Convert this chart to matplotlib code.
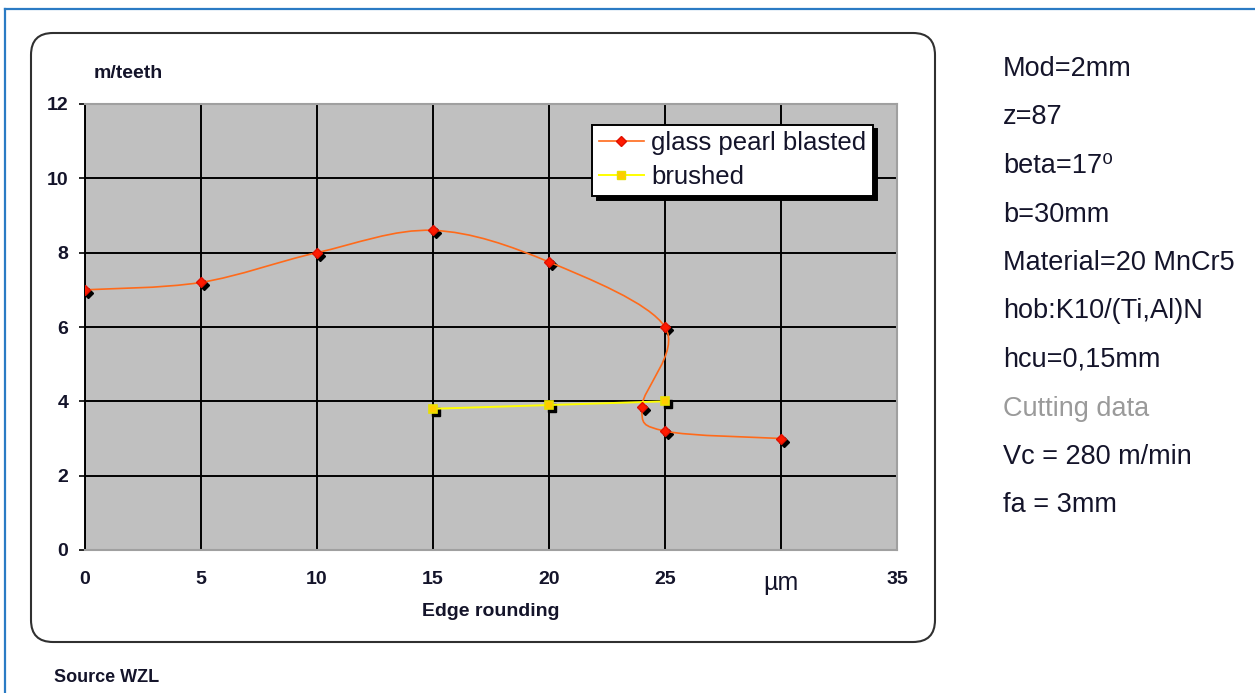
import matplotlib
matplotlib.use("Agg")
import matplotlib.pyplot as plt
from matplotlib.path import Path
from matplotlib.patches import PathPatch, FancyBboxPatch
from matplotlib.lines import Line2D
from matplotlib.transforms import offset_copy, IdentityTransform
import numpy as np

plt.rcParams['font.family'] = ['Liberation Sans', 'DejaVu Sans']

# values (drawing order of the smoothed curve)
blasted_x = [0, 5, 10, 15, 20, 25, 24, 25, 30]
blasted_y = [7.0, 7.2, 8.0, 8.6, 7.75, 6.0, 3.85, 3.2, 3.0]
brushed_x = [15, 20, 25]
brushed_y = [3.8, 3.9, 4.0]

x_ticks = [0, 5, 10, 15, 20, 25, 30, 35]
x_tick_labels = ["0", "5", "10", "15", "20", "25", "µm", "35"]
y_ticks = [0, 2, 4, 6, 8, 10, 12]

params = ["Mod=2mm", "z=87", "beta=17⁰", "b=30mm", "Material=20 MnCr5",
          "hob:K10/(Ti,Al)N", "hcu=0,15mm", "Cutting data",
          "Vc = 280 m/min", "fa = 3mm"]

W, H = 1255, 693
ORANGE = "#ff6a1a"
TXT = "#14142a"


def smooth_path(xs, ys):
    # Excel-like smoothed line: Catmull-Rom segments as cubic Beziers
    pts = np.column_stack([xs, ys]).astype(float)
    n = len(pts)
    verts = [pts[0]]
    codes = [Path.MOVETO]
    for i in range(n - 1):
        p0 = pts[max(i - 1, 0)]
        p1, p2 = pts[i], pts[i + 1]
        p3 = pts[min(i + 2, n - 1)]
        verts += [p1 + (p2 - p0) / 6, p2 - (p3 - p1) / 6, p2]
        codes += [Path.CURVE4] * 3
    return Path(verts, codes)


fig = plt.figure(figsize=(W / 100, H / 100), dpi=100)

# blue frame (only top and left visible) and rounded chart box
fig.add_artist(Line2D([5, W + 10], [H - 9, H - 9], transform=IdentityTransform(),
                      color="#2b7bc4", lw=1.6))
fig.add_artist(Line2D([5, 5], [H - 9, -10], transform=IdentityTransform(),
                      color="#2b7bc4", lw=1.6))
box = FancyBboxPatch((31, H - 642), 904, 609, boxstyle="round,pad=0,rounding_size=22",
                     transform=IdentityTransform(), facecolor="white",
                     edgecolor="#303030", lw=1.5, zorder=0)
fig.add_artist(box)

ax = fig.add_axes([85 / W, 1 - 550 / H, 812 / W, 446 / H])
ax.set_facecolor("#c0c0c0")
ax.set_xlim(0, 35)
ax.set_ylim(0, 12)
ax.set_xticks(x_ticks)
ax.set_xticklabels(x_tick_labels)
ax.set_yticks(y_ticks)
ax.set_axisbelow(True)
ax.grid(True, color="black", lw=1.4)
for side in ["top", "right", "bottom"]:
    ax.spines[side].set_color("#a0a0a0")
    ax.spines[side].set_linewidth(1.5)
ax.spines["left"].set_color("black")
ax.spines["left"].set_linewidth(1.4)

ax.tick_params(axis="x", length=0, pad=15, labelsize=14, labelcolor=TXT)
ax.tick_params(axis="y", length=4, width=1.2, pad=8, labelsize=14, labelcolor=TXT)
for lab in ax.get_xticklabels() + ax.get_yticklabels():
    lab.set_fontweight("bold")
mu = ax.get_xticklabels()[6]
mu.set_fontweight("normal")
mu.set_fontsize(18)

shadow = offset_copy(ax.transData, fig=fig, x=3, y=-3, units="dots")

# glass pearl blasted
ax.plot(blasted_x, blasted_y, "D", color="black", ms=5, transform=shadow, zorder=3)
ax.add_patch(PathPatch(smooth_path(blasted_x, blasted_y), fill=False,
                       edgecolor=ORANGE, lw=1.2, zorder=4))
ax.plot(blasted_x, blasted_y, "D", color="#ff1a00", mec="#e01000", ms=5, zorder=5)

# brushed
ax.plot(brushed_x, brushed_y, "s", color="black", ms=6, transform=shadow, zorder=3)
ax.plot(brushed_x, brushed_y, "-", color="#ffff00", lw=1.4, zorder=4)
ax.plot(brushed_x, brushed_y, "s", color="#ffcc00", mec="#e8e000", mew=1.2,
        ms=6, zorder=5)

handles = [
    Line2D([], [], color=ORANGE, lw=1.2, marker="D", ms=5, mfc="#ff1a00", mec="#e01000"),
    Line2D([], [], color="#ffff00", lw=1.4, marker="s", ms=6, mfc="#ffcc00", mec="#e8e000"),
]
leg = ax.legend(handles, ["glass pearl blasted", "brushed"], loc="upper right",
                bbox_to_anchor=((873 - 85) / 812, (550 - 125) / 446),
                borderaxespad=0, fancybox=False, fontsize=18.5, labelspacing=0.38,
                handlelength=1.75, handletextpad=0.3, borderpad=0.25,
                shadow={"color": "black", "alpha": 1, "ox": 3, "oy": -3})
leg.get_frame().set_edgecolor("black")
leg.get_frame().set_linewidth(1.4)
leg.get_frame().set_alpha(1)
for t in leg.get_texts():
    t.set_color(TXT)

fig.text(94 / W, 1 - 78 / H, "m/teeth", fontsize=14, fontweight="bold",
         color=TXT, va="baseline")
fig.text(491 / W, 1 - 611 / H, "Edge rounding", fontsize=14, fontweight="bold",
         color=TXT, ha="center", va="center")
fig.text(54 / W, 1 - 682 / H, "Source WZL", fontsize=13, fontweight="bold",
         color=TXT, va="baseline")

for i, s in enumerate(params):
    col = "#9a9a9a" if s == "Cutting data" else TXT
    fig.text(1003 / W, 1 - (76 + i * 48.5) / H, s, fontsize=19.5, color=col,
             va="baseline")

fig.savefig("out.png", dpi=100)
